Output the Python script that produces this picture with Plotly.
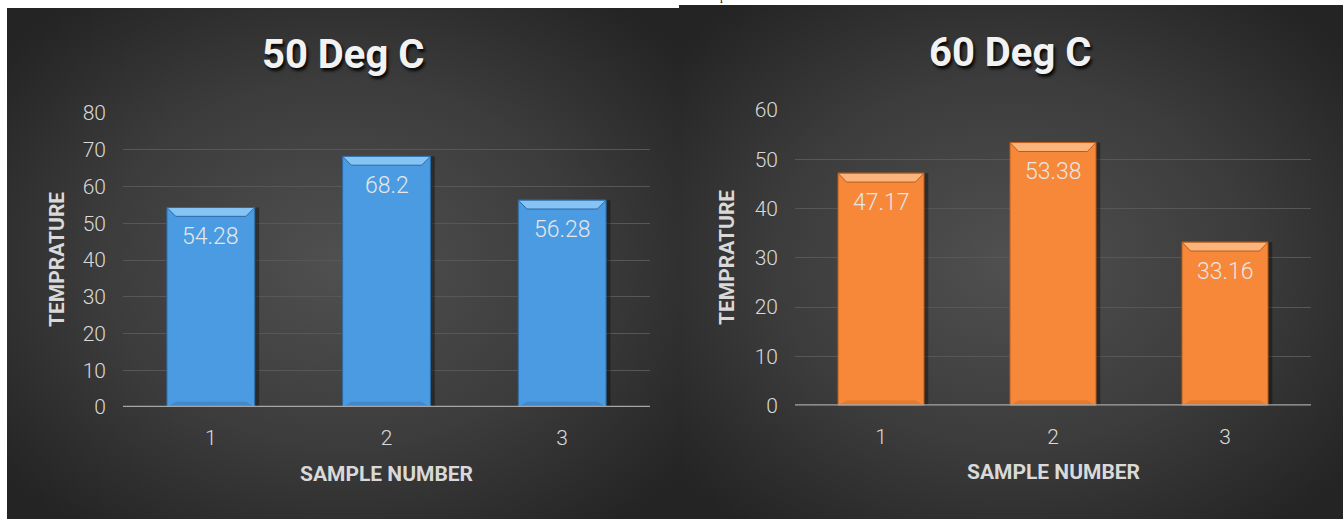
import base64
import plotly.graph_objects as go

# ---- data -------------------------------------------------------------
samples = [1, 2, 3]
sample_labels = ["1", "2", "3"]
temp_50 = [54.28, 68.2, 56.28]
temp_60 = [47.17, 53.38, 33.16]
ticks_50 = [0, 10, 20, 30, 40, 50, 60, 70, 80]
ticks_60 = [0, 10, 20, 30, 40, 50, 60]

W, H = 1343, 519
FONT = "Roboto"
TXT = "#d9d9d9"


def fx(px):
    return px / W


def fy(py):
    return 1 - py / H


def gradient_uri():
    svg = (
        '<svg xmlns="http://www.w3.org/2000/svg" width="400" height="300" '
        'viewBox="0 0 400 300" preserveAspectRatio="none">'
        '<defs><radialGradient id="g" cx="50%" cy="50%" r="65%">'
        '<stop offset="0%" stop-color="#505050"/>'
        '<stop offset="55%" stop-color="#3c3c3c"/>'
        '<stop offset="100%" stop-color="#242424"/>'
        '</radialGradient></defs>'
        '<rect width="400" height="300" fill="url(#g)"/></svg>'
    )
    return "data:image/svg+xml;base64," + base64.b64encode(svg.encode()).decode()


fig = go.Figure()

panels = [
    dict(vals=temp_50, ticks=ticks_50, ymax=80, xa="x", ya="y",
         fill="#4a9be2", edge="#2d6aa3", bevel="#86c4f6", base_dark="#4189cc",
         dx=0.05, dy=2.4),
    dict(vals=temp_60, ticks=ticks_60, ymax=60, xa="x2", ya="y2",
         fill="#f7883a", edge="#b85d1c", bevel="#fbb57c", base_dark="#e67b30",
         dx=0.05, dy=1.8),
]

half = 0.25
for p in panels:
    # soft drop shadow to the right of each bar
    fig.add_trace(go.Bar(
        x=samples, y=p["vals"], width=2 * half, offset=-half + 0.025,
        marker=dict(color="rgba(0,0,0,0.35)", line=dict(width=0)),
        xaxis=p["xa"], yaxis=p["ya"], hoverinfo="skip", showlegend=False,
    ))
    # main bars
    fig.add_trace(go.Bar(
        x=samples, y=p["vals"], width=2 * half,
        marker=dict(color=p["fill"], line=dict(color=p["edge"], width=1)),
        xaxis=p["xa"], yaxis=p["ya"], showlegend=False,
    ))
    # bevelled top face and slightly darker base of each bar
    tx, ty, bx, by = [], [], [], []
    for c, v in zip(samples, p["vals"]):
        tx += [c - half, c + half, c + half - p["dx"], c - half + p["dx"], c - half, None]
        ty += [v, v, v - p["dy"], v - p["dy"], v, None]
        bx += [c - half, c + half, c + half - p["dx"], c - half + p["dx"], c - half, None]
        by += [0, 0, p["dy"] * 0.6, p["dy"] * 0.6, 0, None]
    fig.add_trace(go.Scatter(
        x=tx, y=ty, mode="lines", fill="toself", fillcolor=p["bevel"],
        line=dict(color=p["edge"], width=1),
        xaxis=p["xa"], yaxis=p["ya"], hoverinfo="skip", showlegend=False,
    ))
    fig.add_trace(go.Scatter(
        x=bx, y=by, mode="lines", fill="toself", fillcolor=p["base_dark"],
        line=dict(width=0),
        xaxis=p["xa"], yaxis=p["ya"], hoverinfo="skip", showlegend=False,
    ))
    # value labels just inside the bar tops
    for c, v in zip(samples, p["vals"]):
        fig.add_annotation(
            x=c, y=v, xref=p["xa"], yref=p["ya"], text=f"{v:g}",
            showarrow=False, yanchor="middle", yshift=-29,
            font=dict(family=FONT, size=23, color="#e6e6e6", weight=300),
        )

axis_common = dict(showline=False, ticks="", zeroline=False, fixedrange=True,
                   automargin=False)
tick_font = dict(family=FONT, size=21, color=TXT, weight=300)

fig.update_layout(
    width=W, height=H,
    margin=dict(l=0, r=0, t=0, b=0, autoexpand=False),
    paper_bgcolor="white",
    plot_bgcolor="rgba(0,0,0,0)",
    bargap=0.5,
    barmode="overlay",
    showlegend=False,
    xaxis=dict(domain=[fx(123), fx(650)], range=[0.5, 3.5], anchor="y",
               tickvals=samples, ticktext=sample_labels, showgrid=False,
               ticklabelstandoff=16, tickfont=tick_font, **axis_common),
    yaxis=dict(domain=[fy(407), fy(113)], range=[0, 80], anchor="x",
               tickvals=ticks_50, showgrid=True, gridcolor="#575757", gridwidth=1,
               ticklabelstandoff=16, tickfont=tick_font, **axis_common),
    xaxis2=dict(domain=[fx(795), fx(1311)], range=[0.5, 3.5], anchor="y2",
                tickvals=samples, ticktext=sample_labels, showgrid=False,
                ticklabelstandoff=16, tickfont=tick_font, **axis_common),
    yaxis2=dict(domain=[fy(405.5), fy(110)], range=[0, 60], anchor="x2",
                tickvals=ticks_60, showgrid=True, gridcolor="#575757", gridwidth=1,
                ticklabelstandoff=16, tickfont=tick_font, **axis_common),
)

# panel backgrounds
bg = gradient_uri()
for x0, x1, y0 in [(7, 679, 8), (679, 1343, 5)]:
    fig.add_layout_image(
        source=bg, xref="paper", yref="paper",
        x=fx(x0), y=fy(y0), sizex=fx(x1) - fx(x0), sizey=fy(y0) - fy(H),
        xanchor="left", yanchor="top", sizing="stretch", layer="below",
    )

# baseline of each chart
for xa, ya in [("x", "y"), ("x2", "y2")]:
    fig.add_shape(type="line", xref=f"{xa} domain", yref=ya, x0=0, x1=1, y0=0, y1=0,
                  line=dict(color="#a6a6a6", width=2.5), layer="above")

# titles and axis titles
title_font = dict(family=FONT, size=40, color="#f2f2f2", weight=700,
                  shadow="2px 3px 3px rgba(0,0,0,0.85)")
label_font = dict(family=FONT, size=21, color=TXT, weight=700)
texts = [
    ("50 Deg C", 343, 55, 0, title_font),
    ("60 Deg C", 1010, 52, 0, title_font),
    ("SAMPLE NUMBER", 386, 474, 0, label_font),
    ("SAMPLE NUMBER", 1053, 472, 0, label_font),
    ("TEMPRATURE", 57, 260, -90, label_font),
    ("TEMPRATURE", 727, 257, -90, label_font),
]
for t, px, py, ang, f in texts:
    fig.add_annotation(x=fx(px), y=fy(py), xref="paper", yref="paper", text=t,
                       showarrow=False, xanchor="center", yanchor="middle",
                       textangle=ang, font=f)

# fragment of the page text above the charts
fig.add_annotation(x=fx(718), y=fy(5), xref="paper", yref="paper", text="p",
                   showarrow=False, xanchor="left", yanchor="bottom",
                   font=dict(family="Liberation Serif", size=12, color="#111111"))

fig.write_html("out.html")
